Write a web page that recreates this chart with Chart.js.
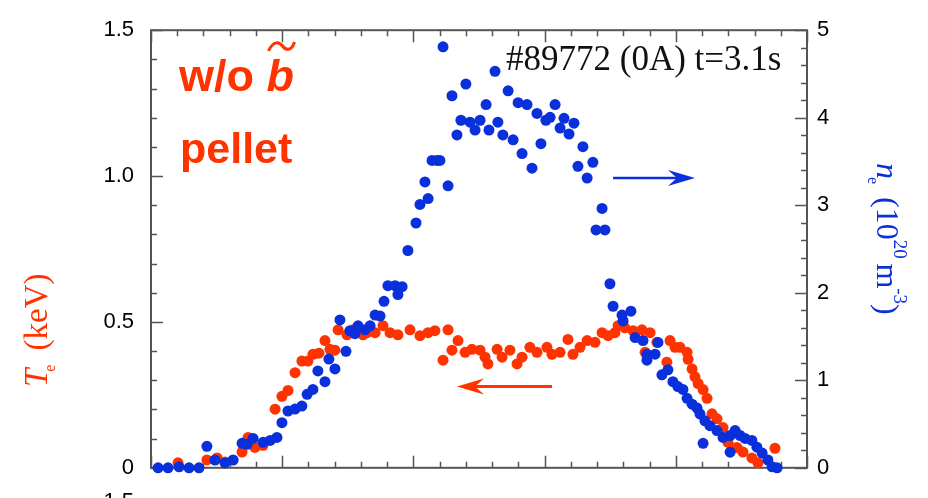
<!DOCTYPE html>
<html>
<head>
<meta charset="utf-8">
<script src="https://cdn.jsdelivr.net/npm/chart.js@4.4.0/dist/chart.umd.min.js"></script>
<style>
  html, body { margin: 0; padding: 0; background: #fff; }
  canvas { display: block; }
</style>
</head>
<body>
<canvas id="profile-chart" width="928" height="498"></canvas>
<script>
// Te profile (red, left axis, keV) vs major radius R (m)
const R_TE = [2.603, 2.713, 2.752, 2.782, 2.847, 2.870, 2.896, 2.927, 2.973, 2.999,
  3.022, 3.049, 3.075, 3.098, 3.117, 3.140, 3.163, 3.182, 3.201, 3.213,
  3.247, 3.270, 3.308, 3.323, 3.354, 3.384, 3.411, 3.441, 3.487, 3.525,
  3.556, 3.582, 3.613, 3.632, 3.647, 3.670, 3.697, 3.723, 3.754, 3.773,
  3.784, 3.819, 3.838, 3.868, 3.895, 3.914, 3.944, 3.971, 4.009, 4.028,
  4.059, 4.089, 4.108, 4.135, 4.162, 4.192, 4.219, 4.242, 4.268, 4.280,
  4.306, 4.337, 4.371, 4.383, 4.402, 4.428, 4.466, 4.478, 4.497, 4.516,
  4.543, 4.547, 4.562, 4.573, 4.585, 4.604, 4.619, 4.638, 4.657, 4.680,
  4.699, 4.733, 4.756, 4.790, 4.813, 4.878];
const TE = [0.017, 0.027, 0.034, 0.020, 0.054, 0.104, 0.070, 0.077, 0.201, 0.245,
  0.265, 0.326, 0.366, 0.366, 0.389, 0.393, 0.436, 0.406, 0.403, 0.473,
  0.456, 0.473, 0.456, 0.463, 0.463, 0.487, 0.463, 0.456, 0.473, 0.453,
  0.463, 0.470, 0.369, 0.473, 0.403, 0.436, 0.396, 0.406, 0.403, 0.379,
  0.356, 0.406, 0.379, 0.403, 0.356, 0.379, 0.413, 0.396, 0.413, 0.389,
  0.396, 0.440, 0.389, 0.413, 0.436, 0.430, 0.463, 0.453, 0.463, 0.487,
  0.480, 0.470, 0.473, 0.396, 0.463, 0.430, 0.362, 0.436, 0.413, 0.413,
  0.396, 0.372, 0.339, 0.312, 0.289, 0.268, 0.238, 0.185, 0.168, 0.138,
  0.087, 0.070, 0.054, 0.034, 0.017, 0.067];

// ne profile (blue, right axis, 10^20 m^-3)
const R_NE = [2.527, 2.565, 2.607, 2.645, 2.683, 2.713, 2.744, 2.782, 2.813, 2.847,
  2.866, 2.889, 2.927, 2.954, 2.980, 2.999, 3.022, 3.049, 3.075, 3.095,
  3.117, 3.136, 3.163, 3.178, 3.201, 3.220, 3.243, 3.258, 3.277, 3.289,
  3.316, 3.335, 3.354, 3.373, 3.388, 3.403, 3.430, 3.441, 3.457, 3.479,
  3.510, 3.525, 3.544, 3.556, 3.571, 3.590, 3.601, 3.613, 3.632, 3.647,
  3.666, 3.681, 3.700, 3.716, 3.735, 3.754, 3.777, 3.788, 3.811, 3.822,
  3.841, 3.861, 3.880, 3.899, 3.914, 3.933, 3.952, 3.971, 3.986, 4.005,
  4.021, 4.040, 4.059, 4.074, 4.093, 4.112, 4.127, 4.146, 4.162, 4.184,
  4.196, 4.219, 4.230, 4.249, 4.261, 4.295, 4.299, 4.329, 4.345, 4.375,
  4.390, 4.390, 4.421, 4.432, 4.447, 4.470, 4.489, 4.508, 4.527, 4.543,
  4.562, 4.581, 4.592, 4.604, 4.611, 4.630, 4.657, 4.680, 4.707, 4.707,
  4.726, 4.745, 4.764, 4.790, 4.809, 4.829, 4.851, 4.867, 4.886];
const NE = [0, 0, 0.011, 0, 0, 0.246, 0.089, 0.056, 0.089, 0.280,
  0.268, 0.336, 0.291, 0.313, 0.347, 0.515, 0.649, 0.671, 0.705, 0.839,
  0.895, 1.107, 0.984, 1.242, 1.130, 1.689, 1.331, 1.566, 1.532, 1.622,
  1.577, 1.622, 1.745, 1.734, 1.902, 2.081, 2.081, 1.980, 2.069, 2.483,
  2.797, 3.009, 3.266, 3.076, 3.512, 3.512, 3.512, 4.810, 3.222, 4.251,
  3.803, 3.971, 4.385, 3.949, 3.859, 3.971, 4.150, 3.859, 4.530, 3.949,
  3.803, 4.307, 3.747, 4.172, 3.591, 4.150, 3.423, 4.049, 3.703, 3.971,
  4.005, 4.150, 3.882, 3.993, 3.814, 3.938, 3.445, 3.669, 3.311, 3.490,
  2.718, 2.964, 2.718, 2.103, 1.846, 1.745, 1.678, 1.790, 1.488, 1.454,
  1.298, 1.230, 1.298, 1.432, 1.063, 1.119, 0.984, 0.928, 0.895, 0.794,
  0.727, 0.682, 0.615, 0.280, 0.537, 0.481, 0.425, 0.347, 0.369, 0.179,
  0.425, 0.369, 0.336, 0.313, 0.235, 0.168, 0.089, 0.011, 0];

// tick labels
const TE_TICKS = { "0": "0", "0.5": "0.5", "1": "1.0", "1.5": "1.5" };
const NE_TICKS = { "0": "0", "1": "1", "2": "2", "3": "3", "4": "4", "5": "5" };

const RED = "#ff3300";
const BLUE = "#0a30dc";
const FRAME = "#555555";
const SANS = "'Liberation Sans', Arial, sans-serif";
const SERIF = "'Liberation Serif', 'Times New Roman', serif";

function isMult(v, step) {
  return Math.abs(v / step - Math.round(v / step)) < 1e-6;
}

function tickKey(v) {
  return String(Math.round(v * 10) / 10);
}

// frame with inward ticks on all four sides
const framePlugin = {
  id: "frame",
  beforeDatasetsDraw(chart) {
    const ctx = chart.ctx;
    const { left, right, top, bottom } = chart.chartArea;
    const x = chart.scales.x, yl = chart.scales.y, yr = chart.scales.yR;
    ctx.save();
    ctx.strokeStyle = FRAME;
    ctx.lineWidth = 1.5;
    ctx.beginPath();
    x.ticks.forEach(function (t) {
      const p = Math.round(x.getPixelForValue(t.value)) + 0.5;
      const len = isMult(t.value, 0.5) ? 12 : 6;
      ctx.moveTo(p, bottom); ctx.lineTo(p, bottom - len);
      ctx.moveTo(p, top); ctx.lineTo(p, top + len);
    });
    yl.ticks.forEach(function (t) {
      const p = Math.round(yl.getPixelForValue(t.value)) + 0.5;
      const len = isMult(t.value, 0.5) ? 12 : 6;
      ctx.moveTo(left, p); ctx.lineTo(left + len, p);
    });
    yr.ticks.forEach(function (t) {
      const p = Math.round(yr.getPixelForValue(t.value)) + 0.5;
      const len = isMult(t.value, 1) ? 12 : 6;
      ctx.moveTo(right, p); ctx.lineTo(right - len, p);
    });
    ctx.stroke();
    ctx.lineWidth = 2;
    ctx.strokeRect(left, top, right - left, bottom - top);
    ctx.restore();
  },
  afterDraw(chart) {
    const ctx = chart.ctx;
    const { left, top } = chart.chartArea;
    const x = chart.scales.x, yl = chart.scales.y, yr = chart.scales.yR;
    ctx.save();

    // "w/o b~" and "pellet"
    ctx.fillStyle = RED;
    ctx.strokeStyle = RED;
    ctx.textBaseline = "alphabetic";
    ctx.textAlign = "left";
    ctx.font = "bold 45px " + SANS;
    ctx.fillText("w/o", left + 28, 91);
    const bx = left + 28 + ctx.measureText("w/o ").width;
    ctx.font = "italic bold 45px " + SANS;
    ctx.fillText("b", bx, 91);
    ctx.lineWidth = 3;
    ctx.beginPath();
    ctx.moveTo(bx + 2, 51);
    ctx.bezierCurveTo(bx + 7, 40, bx + 13, 42, bx + 16, 46);
    ctx.bezierCurveTo(bx + 19, 50, bx + 25, 52, bx + 28, 42);
    ctx.stroke();
    ctx.font = "bold 43px " + SANS;
    ctx.fillText("pellet", left + 29, 163);

    // shot label
    ctx.fillStyle = "#111";
    ctx.font = "35px " + SERIF;
    ctx.fillText("#89772 (0A) t=3.1s", 506, 70);

    // arrows
    function arrow(x0, x1, y, color, w) {
      const dir = Math.sign(x1 - x0);
      ctx.strokeStyle = color;
      ctx.fillStyle = color;
      ctx.lineWidth = w;
      ctx.beginPath();
      ctx.moveTo(x0, y); ctx.lineTo(x1 - dir * 10, y);
      ctx.stroke();
      ctx.beginPath();
      ctx.moveTo(x1, y);
      ctx.lineTo(x1 - dir * 27, y - 8);
      ctx.lineTo(x1 - dir * 18, y);
      ctx.lineTo(x1 - dir * 27, y + 8);
      ctx.closePath();
      ctx.fill();
    }
    arrow(x.getPixelForValue(4.261), x.getPixelForValue(4.573), yr.getPixelForValue(3.311), BLUE, 2.5);
    arrow(x.getPixelForValue(4.028), x.getPixelForValue(3.666), yl.getPixelForValue(0.279), RED, 3);

    // left axis title: T_e (keV)
    ctx.save();
    ctx.translate(47, 387);
    ctx.rotate(-Math.PI / 2);
    ctx.fillStyle = RED;
    ctx.font = "italic 33px " + SERIF;
    ctx.fillText("T", 0, 0);
    let w = ctx.measureText("T").width;
    ctx.font = "16px " + SERIF;
    ctx.fillText("e", w - 3, 8);
    w += 10;
    ctx.font = "33px " + SERIF;
    ctx.fillText(" (keV)", w, 0);
    ctx.restore();

    // right axis title: n_e (10^20 m^-3)
    ctx.save();
    ctx.translate(877, 163);
    ctx.rotate(Math.PI / 2);
    ctx.fillStyle = BLUE;
    ctx.font = "italic 32px " + SERIF;
    ctx.fillText("n", 0, 0);
    let v = ctx.measureText("n").width;
    ctx.font = "16px " + SERIF;
    ctx.fillText("e", v - 2, 9);
    v += 10;
    ctx.font = "32px " + SERIF;
    ctx.fillText(" (10", v, 0);
    v += ctx.measureText(" (10").width;
    ctx.font = "19px " + SERIF;
    ctx.fillText("20", v, -17);
    v += ctx.measureText("20 ").width;
    ctx.font = "32px " + SERIF;
    ctx.fillText("m", v, 0);
    v += ctx.measureText("m").width;
    ctx.font = "19px " + SERIF;
    ctx.fillText("-3", v, -17);
    v += ctx.measureText("-3").width;
    ctx.font = "32px " + SERIF;
    ctx.fillText(")", v, 0);
    ctx.restore();

    // top of the next panel's tick label, cut by the picture edge
    ctx.fillStyle = "#000";
    ctx.font = "22px " + SANS;
    ctx.textAlign = "right";
    ctx.textBaseline = "top";
    ctx.fillText("1.5", 134, 491);

    ctx.restore();
  }
};

const ctx = document.getElementById("profile-chart").getContext("2d");

new Chart(ctx, {
  type: "scatter",
  data: {
    datasets: [
      {
        label: "ne",
        data: R_NE.map(function (r, i) { return { x: r, y: NE[i] }; }),
        yAxisID: "yR",
        backgroundColor: BLUE,
        borderWidth: 0,
        pointRadius: 5.5,
        clip: false,
        order: 0,
      },
      {
        label: "Te",
        data: R_TE.map(function (r, i) { return { x: r, y: TE[i] }; }),
        yAxisID: "y",
        backgroundColor: RED,
        borderWidth: 0,
        pointRadius: 5.5,
        clip: false,
        order: 1,
      },
    ],
  },
  options: {
    responsive: false,
    animation: false,
    devicePixelRatio: 1,
    layout: { padding: { top: 21, left: 0, right: 0, bottom: 0 } },
    plugins: {
      legend: { display: false },
      tooltip: { enabled: false },
    },
    scales: {
      x: {
        type: "linear",
        position: "bottom",
        min: 2.5,
        max: 5.0,
        ticks: { display: false, stepSize: 0.1, autoSkip: false },
        grid: { display: false, drawTicks: false },
        border: { display: false },
        afterFit: function (s) { s.height = 30; },
      },
      y: {
        position: "left",
        min: 0,
        max: 1.5,
        ticks: {
          stepSize: 0.1,
          autoSkip: false,
          padding: 17,
          color: "#000",
          font: { family: SANS, size: 22 },
          callback: function (value) {
            return TE_TICKS[tickKey(value)] || "";
          },
        },
        grid: { display: false, drawTicks: false },
        border: { display: false },
        afterFit: function (s) { s.width = 151; },
      },
      yR: {
        position: "right",
        min: 0,
        max: 5,
        ticks: {
          stepSize: 0.2,
          autoSkip: false,
          padding: 10,
          color: "#000",
          font: { family: SANS, size: 22 },
          callback: function (value) {
            return isMult(value, 1) ? (NE_TICKS[tickKey(value)] || "") : "";
          },
        },
        grid: { display: false, drawTicks: false },
        border: { display: false },
        afterFit: function (s) { s.width = 121; },
      },
    },
  },
  plugins: [framePlugin],
});
</script>
</body>
</html>
